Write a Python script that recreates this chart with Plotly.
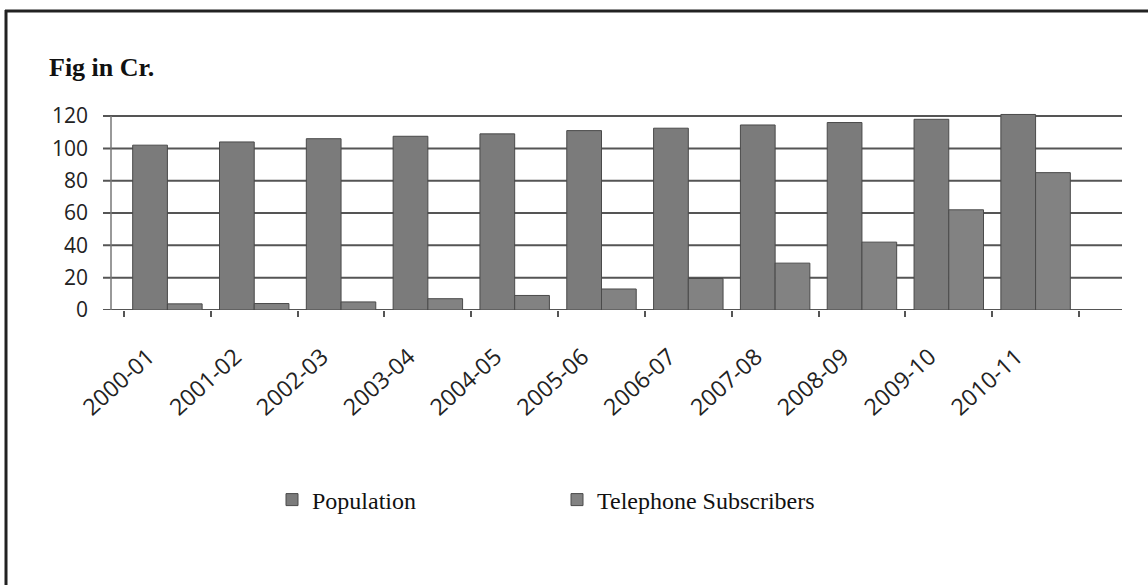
import plotly.graph_objects as go

# Population and telephone subscribers in India, figures in crore
years = ["2000-01", "2001-02", "2002-03", "2003-04", "2004-05", "2005-06",
         "2006-07", "2007-08", "2008-09", "2009-10", "2010-11"]
population = [102, 104, 106, 107.5, 109, 111, 112.5, 114.5, 116, 118, 121]
telephone = [3.8, 4, 5, 7, 9, 13, 19.5, 29, 42, 62, 85]
y_ticks = [0, 20, 40, 60, 80, 100, 120]

W, H = 1148, 585
ML, MR, MT, MB = 124, 69, 108, 275
PW = W - ML - MR
PH = H - MT - MB


def px_x(px):
    """Horizontal pixel -> paper coordinate."""
    return (px - ML) / PW


def px_y(py):
    """Vertical pixel -> paper coordinate."""
    return (H - MB - py) / PH


fig = go.Figure()
fig.add_trace(go.Bar(
    name="Population", x=years, y=population,
    marker=dict(color="#7b7b7b", line=dict(color="#4a4a4a", width=1)),
))
fig.add_trace(go.Bar(
    name="Telephone Subscribers", x=years, y=telephone,
    marker=dict(color="#828282", line=dict(color="#4a4a4a", width=1)),
))

# Horizontal grid lines running a little past both sides of the plot area
shapes = []
for v in y_ticks:
    shapes.append(dict(type="line", xref="paper", yref="y",
                       x0=px_x(103), x1=px_x(1122), y0=v, y1=v,
                       line=dict(color="#555555", width=2), layer="below"))
# Vertical value axis line
shapes.append(dict(type="line", xref="paper", yref="y",
                   x0=px_x(111), x1=px_x(111), y0=y_ticks[0], y1=y_ticks[-1],
                   line=dict(color="#777777", width=1.5), layer="below"))
# Frame edges (left and top)
shapes.append(dict(type="line", xref="paper", yref="paper",
                   x0=px_x(6), x1=px_x(6), y0=px_y(10), y1=px_y(600),
                   line=dict(color="#222222", width=3)))
shapes.append(dict(type="line", xref="paper", yref="paper",
                   x0=px_x(5), x1=px_x(1160), y0=px_y(11), y1=px_y(11),
                   line=dict(color="#222222", width=3)))

fig.update_layout(
    width=W, height=H,
    margin=dict(l=ML, r=MR, t=MT, b=MB),
    paper_bgcolor="white", plot_bgcolor="white",
    barmode="group", bargap=0.2, bargroupgap=0,
    shapes=shapes,
    font=dict(family="Open Sans, sans-serif", color="#222222"),
    xaxis=dict(
        type="category", showgrid=False, showline=False, zeroline=False,
        tickangle=-42, tickson="boundaries", ticks="outside", ticklen=6,
        tickcolor="#555555", tickwidth=1.5,
        tickfont=dict(family="Open Sans, sans-serif", size=23, color="#222222"),
        ticklabelshift=-19, ticklabelstandoff=28,
    ),
    yaxis=dict(
        range=[0, 125], tickvals=y_ticks, showgrid=False, zeroline=False,
        showline=False, ticks="",
        tickfont=dict(family="Open Sans, sans-serif", size=21, color="#222222"),
        ticklabelstandoff=35,
    ),
    legend=dict(
        orientation="h", x=px_x(272), xanchor="left",
        y=px_y(500), yanchor="middle",
        font=dict(family="Liberation Serif, Times New Roman, serif", size=24,
                  color="#111111"),
        entrywidth=240, entrywidthmode="pixels",
        bgcolor="rgba(0,0,0,0)",
    ),
    annotations=[dict(
        text="<b>Fig in Cr.</b>", xref="paper", yref="paper",
        x=px_x(47), y=px_y(67), xanchor="left", yanchor="middle",
        showarrow=False,
        font=dict(family="Liberation Serif, Times New Roman, serif", size=26,
                  color="#111111"),
    )],
)

fig.write_html("out.html")
